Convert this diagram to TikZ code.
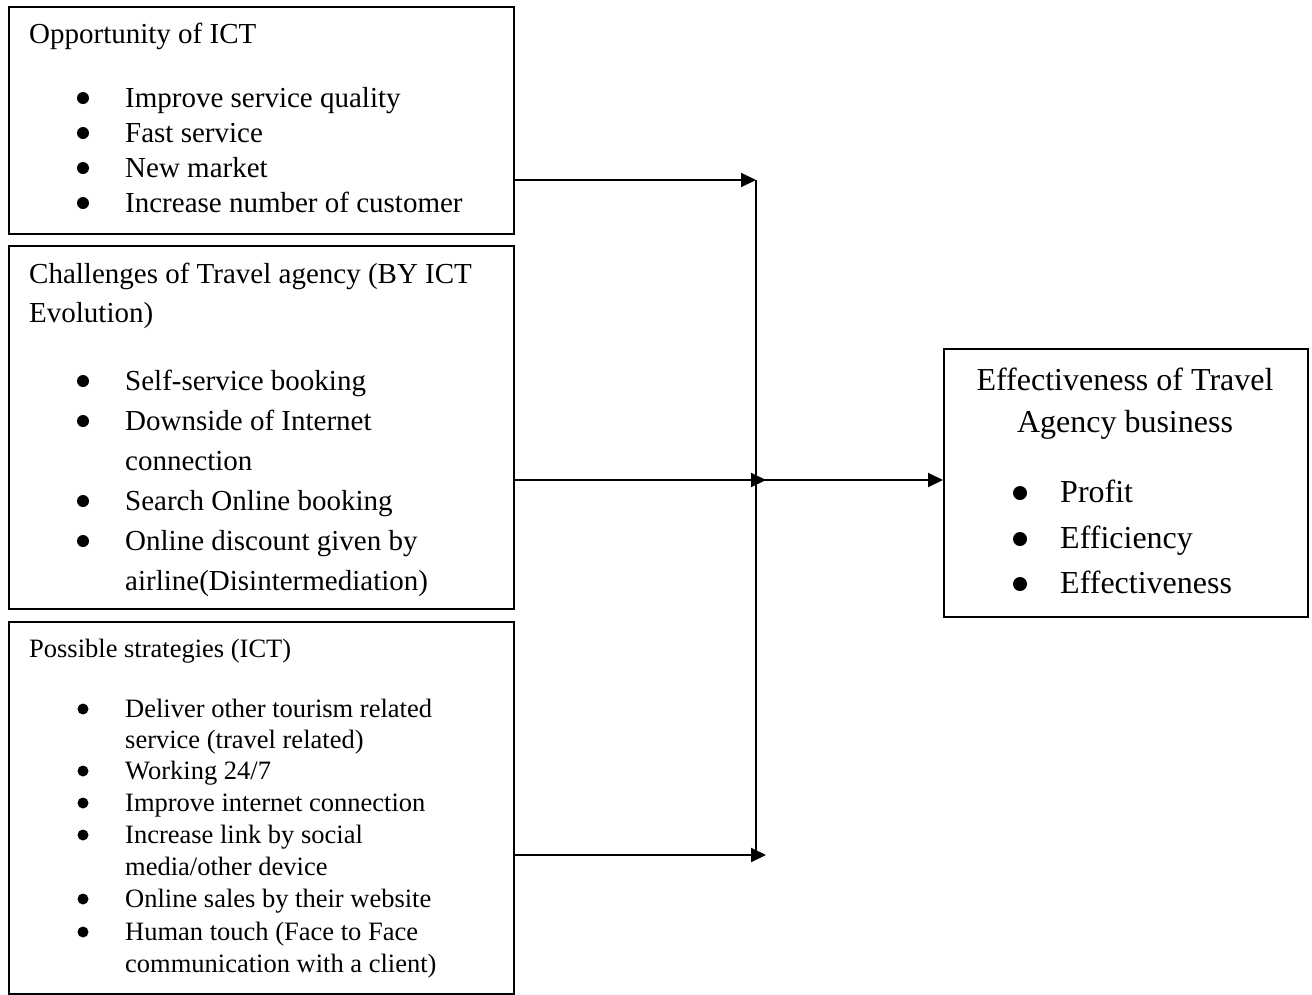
\documentclass[tikz,border=0pt]{standalone}
\usepackage{fontspec}
\setmainfont{Liberation Serif}
\usetikzlibrary{arrows.meta,calc}

\begin{document}
\begin{tikzpicture}[x=1pt,y=-1pt,
    box/.style={rectangle,draw,line width=2pt,anchor=north west,inner sep=0pt},
    hd/.style={anchor=base west,inner sep=0pt,font=\fontsize{29}{35}\selectfont},
    itm/.style={anchor=base west,inner sep=0pt,font=\fontsize{29}{35}\selectfont},
    sitm/.style={anchor=base west,inner sep=0pt,font=\fontsize{26.5}{32}\selectfont},
    bitm/.style={anchor=base,inner sep=0pt,font=\fontsize{32}{40}\selectfont},
    dot/.style={circle,fill,inner sep=0pt,minimum size=12pt},
    arr/.style={-{Triangle[length=15pt,width=14pt]},line width=2pt},
    lin/.style={line width=2pt},
]
\useasboundingbox (0,0) rectangle (1312,994);

% Boxes
\node[box,minimum width=505,minimum height=227] (opp) at (8,6) {};
\node[box,minimum width=505,minimum height=363] (chal) at (8,245) {};
\node[box,minimum width=505,minimum height=372] (strat) at (8,621) {};
\node[box,minimum width=364,minimum height=268] (eff) at (943,348) {};

% Box 1: Opportunity
\node[hd] (opph) at (29,43) {Opportunity of ICT};
\node[itm] (opp1) at (125,107) {Improve service quality};
\node[itm] (opp2) at (125,142) {Fast service};
\node[itm] (opp3) at (125,177) {New market};
\node[itm] (opp4) at (125,212) {Increase number of customer};
\foreach \y [count=\i] in {107,142,177,212}
  \node[dot] (oppb\i) at (83,\y-9) {};

% Box 2: Challenges
\node[hd] (chalh) at (29,283) {Challenges of Travel agency (BY ICT};
\node[hd] (chalh2) at (29,322) {Evolution)};
\node[itm] (chal1) at (125,390) {Self-service booking};
\node[itm] (chal2) at (125,430) {Downside of Internet};
\node[itm] (chal2b) at (125,470) {connection};
\node[itm] (chal3) at (125,510) {Search Online booking};
\node[itm] (chal4) at (125,550) {Online discount given by};
\node[itm] (chal4b) at (125,590) {airline(Disintermediation)};
\foreach \y [count=\i] in {390,430,510,550}
  \node[dot] (chalb\i) at (83,\y-9) {};

% Box 3: Strategies
\node[sitm] (strath) at (29,657) {Possible strategies (ICT)};
\node[sitm] (strat1) at (125,717) {Deliver other tourism related};
\node[sitm] (strat1b) at (125,748) {service (travel related)};
\node[sitm] (strat2) at (125,779) {Working 24/7};
\node[sitm] (strat3) at (125,811) {Improve internet connection};
\node[sitm] (strat4) at (125,843) {Increase link by social};
\node[sitm] (strat4b) at (125,875) {media/other device};
\node[sitm] (strat5) at (125,907) {Online sales by their website};
\node[sitm] (strat6) at (125,940) {Human touch (Face to Face};
\node[sitm] (strat6b) at (125,972) {communication with a client)};
\foreach \y [count=\i] in {717,779,811,843,907,940}
  \node[dot,minimum size=11pt] (stratb\i) at (83,\y-8) {};

% Box 4: Effectiveness
\node[bitm] (effh) at (1125,390) {Effectiveness of Travel};
\node[bitm] (effh2) at (1125,432) {Agency business};
\node[bitm,anchor=base west] (eff1) at (1060,502) {Profit};
\node[bitm,anchor=base west] (eff2) at (1060,548) {Efficiency};
\node[bitm,anchor=base west] (eff3) at (1060,593) {Effectiveness};
\foreach \y [count=\i] in {502,548,593}
  \node[dot,minimum size=14pt] (effb\i) at (1020,\y-9) {};

% Connectors
\coordinate (jt) at (756,180);
\coordinate (jm) at (756,480);
\coordinate (jb) at (756,855);
\draw[lin] (jt) -- (jb);
\draw[arr] (opp.east |- jt) -- (jt);
\draw[arr] (chal.east |- jm) -- ([xshift=10]jm);
\draw[arr] (strat.east |- jb) -- ([xshift=10]jb);
\draw[arr] (jm) -- (eff.west |- jm);
\end{tikzpicture}
\end{document}
